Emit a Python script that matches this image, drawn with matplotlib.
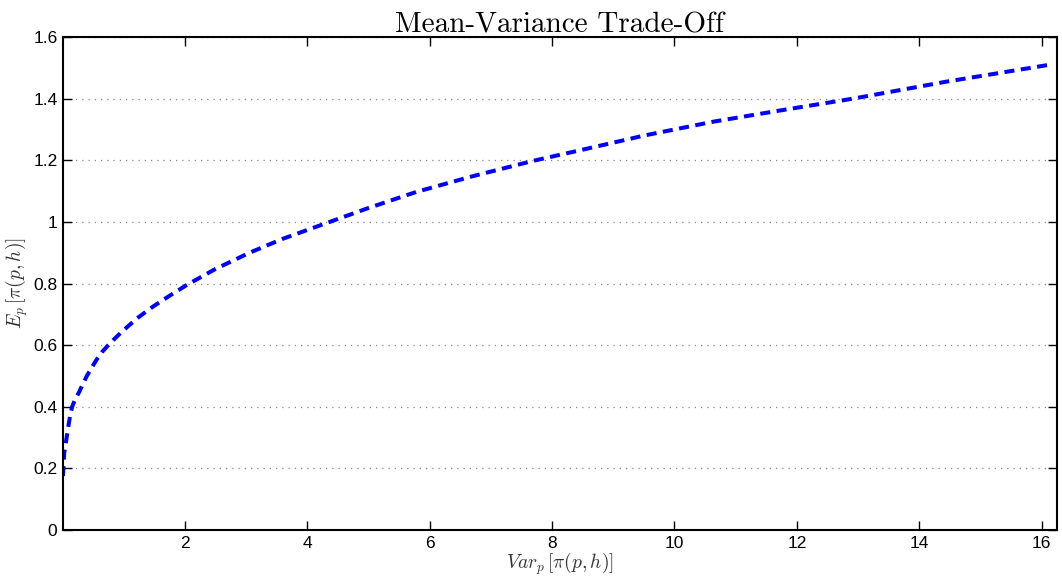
import matplotlib.pyplot as plt

# values
var_p = [0.01, 0.03, 0.07, 0.105, 0.13, 0.16, 0.2, 0.28, 0.33, 0.40, 0.48,
         0.56, 0.65, 0.75, 0.85, 0.97, 1.1, 1.24, 1.48, 1.75, 2.03, 2.5,
         3.06, 3.6, 4.37, 5.0, 5.78, 6.7, 7.69, 8.56, 9.5, 10.63, 11.8,
         12.92, 14.44, 16.13]
mean_p = [0.175, 0.25, 0.30, 0.345, 0.375, 0.40, 0.42, 0.45, 0.472, 0.50, 0.527,
          0.553, 0.578, 0.60, 0.62, 0.643, 0.666, 0.69, 0.725, 0.76, 0.795, 0.847,
          0.90, 0.945, 1.00, 1.045, 1.097, 1.148, 1.198, 1.237, 1.28, 1.325, 1.364,
          1.40, 1.455, 1.51]

xticks = [2, 4, 6, 8, 10, 12, 14, 16]
yticks = [0, 0.2, 0.4, 0.6, 0.8, 1, 1.2, 1.4, 1.6]
ytick_labels = ['0', '0.2', '0.4', '0.6', '0.8', '1', '1.2', '1.4', '1.6']

plt.rcParams['mathtext.fontset'] = 'cm'
plt.rcParams['font.family'] = ['Liberation Sans', 'DejaVu Sans']

fig = plt.figure(figsize=(10.62, 5.80), dpi=100)
ax = fig.add_axes([0.0593, 0.0862, 0.936, 0.85])

ax.plot(var_p, mean_p, color='#0000ff', lw=2.9,
        linestyle=(0, (2.5, 1.6)), dash_capstyle='butt')

ax.set_xlim(0.01, 16.25)
ax.set_ylim(0, 1.6)
ax.set_xticks(xticks)
ax.set_xticklabels([str(t) for t in xticks])
ax.set_yticks(yticks)
ax.set_yticklabels(ytick_labels)

ax.yaxis.grid(True, linestyle=(0, (1, 4)), color='#888888', lw=0.9)
ax.tick_params(direction='in', length=6.5, width=1, top=True, right=True,
               labelsize=12.5, pad=4)
for s in ax.spines.values():
    s.set_linewidth(1.5)

ax.set_title('Mean-Variance Trade-Off', fontsize=21, family='cmr10', pad=3)
ax.set_xlabel(r'$Var_p\,[\pi(p,h)]$', fontsize=14, color='#333333', labelpad=0)
ax.set_ylabel(r'$E_p\,[\pi(p,h)]$', fontsize=14, color='#333333', labelpad=2)

fig.savefig('out.png', dpi=100)
